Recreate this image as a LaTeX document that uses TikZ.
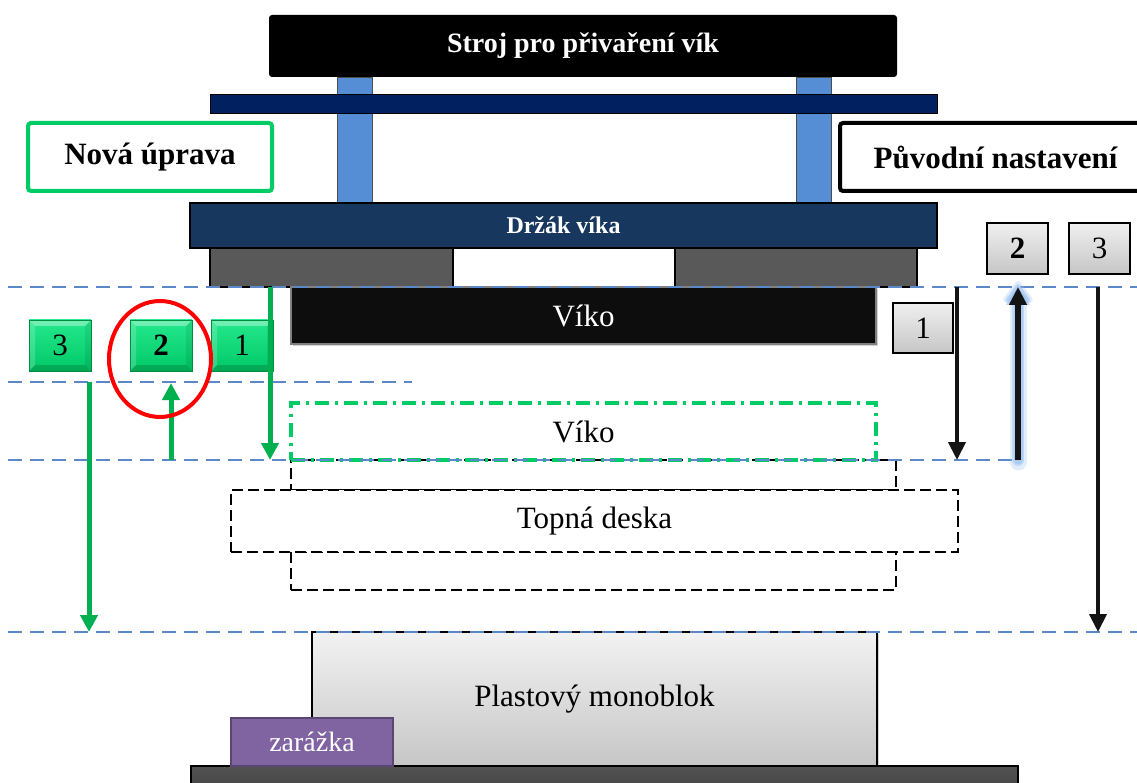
\documentclass[tikz,border=0pt]{standalone}
\usepackage{fontspec}
\setmainfont{Liberation Serif}
\usetikzlibrary{arrows.meta,fit,calc,shadows,shapes.geometric}

\definecolor{pillarblue}{HTML}{558ED5}
\definecolor{beamnavy}{HTML}{002060}
\definecolor{holdernavy}{HTML}{17375E}
\definecolor{padgray}{HTML}{595959}
\definecolor{lidblack}{HTML}{0D0D0D}
\definecolor{guideblue}{HTML}{5B88C6}
\definecolor{framegreen}{HTML}{00CC66}
\definecolor{arrowgreen}{HTML}{00B050}
\definecolor{btngreenA}{HTML}{25E98D}
\definecolor{btngreenB}{HTML}{00C866}
\definecolor{stopviolet}{HTML}{8064A2}
\definecolor{glowblue}{HTML}{9CC2F0}
\definecolor{basegray}{HTML}{404040}

\newcommand\txtL{\fontsize{31}{36}\selectfont}
\newcommand\txtM{\fontsize{28}{32}\selectfont}
\newcommand\txtS{\fontsize{24}{28}\selectfont}

\tikzset{
  area/.style={inner sep=0pt, outer sep=0pt},
  guide/.style={draw=guideblue, line width=1.6pt, dash pattern=on 14pt off 8pt},
  ghost/.style={area, draw=black, line width=1.3pt, dash pattern=on 11pt off 5pt},
  bevel/.style={path picture={
    \path (path picture bounding box.north west) coordinate (pp1)
          (path picture bounding box.south east) coordinate (pp2);
    \fill[white,opacity=.35] (pp1) -- (pp1 -| pp2) -- ++(-6pt,-6pt) -- ($(pp1)+(6pt,-6pt)$) -- cycle;
    \fill[white,opacity=.18] (pp1) -- ($(pp1)+(6pt,-6pt)$) -- ($(pp1 |- pp2)+(6pt,6pt)$) -- (pp1 |- pp2) -- cycle;
    \fill[black,opacity=.08] (pp2) -- (pp2 |- pp1) -- ++(-6pt,-6pt) -- ($(pp2)+(-6pt,6pt)$) -- cycle;
    \fill[black,opacity=.16] (pp2) -- (pp1 |- pp2) -- ++(6pt,6pt) -- ($(pp2)+(-6pt,6pt)$) -- cycle;
  }},
  btngray/.style={area, draw=black, line width=1.4pt, top color=gray!12, bottom color=gray!45, font=\txtL},
  btngreen/.style={area, draw=arrowgreen!80!black, line width=0.8pt, top color=btngreenA, bottom color=btngreenB, bevel, font=\txtL},
  greenarrow/.style={draw=arrowgreen, line width=5pt, -{Triangle[length=17pt,width=17pt]}},
  blackarrow/.style={draw=black!92, line width=4pt, -{Triangle[length=18pt,width=17pt]}},
}

\begin{document}
\begin{tikzpicture}[x=1pt, y=-1pt]
\useasboundingbox (0,0) rectangle (1137,783);

% machine frame
\node[area, fill=pillarblue, draw=black!70, line width=.8pt, fit={(337,77)(372,203)}] (pillarL) {};
\node[area, fill=pillarblue, draw=black!70, line width=.8pt, fit={(796,77)(831,203)}] (pillarR) {};
\node[area, fill=black, rounded corners=3pt, fit={(269,15)(897,77)}] (machine) {};
\node[text=white, font=\txtM\bfseries] at (machine.center) {Stroj pro přivaření vík};
\node[area, fill=beamnavy, draw=black, line width=.8pt, fit={(210,94)(937,113)}] (beam) {};
\node[area, fill=holdernavy, draw=black, line width=1.2pt, fit={(190,203)(937,248)}] (holder) {};
\node[text=white, font=\txtS\bfseries] at (holder.center) {Držák víka};
\node[area, fill=padgray, draw=black, line width=1.2pt, fit={(210,248)(453,287)}] (padL) {};
\node[area, fill=padgray, draw=black, line width=1.2pt, fit={(675,248)(917,287)}] (padR) {};

% legend boxes
\node[area, draw=framegreen, line width=4pt, rounded corners=3pt, fit={(28,123)(272,191)}] (newset) {};
\node[font=\txtL\bfseries] at (newset.center) {Nová úprava};
\node[area, draw=black, line width=4pt, rounded corners=3pt, fit={(840,123)(1160,191)}] (oldset) {};
\node[font=\txtL\bfseries] at (995.5,157) {Původní nastavení};

% lid in upper position
\node[area, fill=lidblack, draw=gray, line width=1.2pt, drop shadow={shadow xshift=2pt, shadow yshift=-2pt, opacity=.35}, fit={(291,287)(876,344)}] (lidUp) {};
\node[text=white, font=\txtL] at (lidUp.center) {Víko};

% heating plate and its travel outlines
\node[ghost, fit={(291,460)(896,490)}] (plateTop) {};
\node[ghost, fit={(291,552)(896,590)}] (plateBot) {};
\node[ghost, fill=white, fit={(231,490)(958,552)}] (plate) {};
\node[font=\txtL] at (plate.center) {Topná deska};

% lid in new lower position
\node[area, draw=framegreen, line width=3.5pt, dash pattern=on 14pt off 6pt on 3pt off 6pt, fit={(291,403)(876,460)}] (lidLow) {};
\node[font=\txtL] at (lidLow.center) {Víko};

% monoblock, base and stopper
\node[area, draw=black, line width=1.2pt, top color=gray!10, bottom color=gray!45, drop shadow={shadow xshift=2pt, shadow yshift=-2pt, opacity=.35}, fit={(312,632)(877,766)}] (mono) {};
\node[font=\txtL] at (mono.center) {Plastový monoblok};
\node[area, draw=black, line width=1.2pt, top color=basegray!90, bottom color=basegray, fit={(191,766)(1018,795)}] (base) {};
\node[area, fill=stopviolet, draw=stopviolet!70!black, line width=1.2pt, fit={(231,718)(393,766)}] (stop) {};
\node[text=white, font=\txtM] at (stop.center) {zarážka};

% reference levels
\coordinate (lvA1) at (8,287);   \coordinate (lvA2) at (1137,287);
\coordinate (lvB1) at (8,382);   \coordinate (lvB2) at (412,382);
\coordinate (lvC1) at (8,460);   \coordinate (lvC2) at (1018,460);
\coordinate (lvD1) at (8,632);   \coordinate (lvD2) at (1137,632);
\draw[guide] (lvA1) -- (lvA2);
\draw[guide] (lvB1) -- (lvB2);
\draw[guide] (lvC1) -- (lvC2);
\draw[guide] (lvD1) -- (lvD2);

% step buttons, new setting
\node[btngreen, fit={(29,320)(91,371)}] (g3) {};
\node[font=\txtL] at (g3.center) {3};
\node[btngreen, fit={(130,320)(192,371)}] (g2) {};
\node[font=\txtL\bfseries] at (g2.center) {2};
\node[btngreen, fit={(211,320)(273,371)}] (g1) {};
\node[font=\txtL] at (g1.center) {1};

% step buttons, original setting
\node[btngray, fit={(893,303)(953,353)}] (k1) {};
\node[font=\txtL] at (k1.center) {1};
\node[btngray, fit={(987,223)(1048,274)}] (k2) {};
\node[font=\txtL\bfseries] at (k2.center) {2};
\node[btngray, fit={(1069,223)(1130,274)}] (k3) {};
\node[font=\txtL] at (k3.center) {3};

% travel arrows, new setting
\coordinate (ga1s) at (270,287);  \coordinate (ga1e) at (270,460);
\coordinate (ga2s) at (171,460);  \coordinate (ga2e) at (171,383);
\coordinate (ga3s) at (89,382);   \coordinate (ga3e) at (89,632);
\draw[greenarrow] (ga1s) -- (ga1e);
\draw[greenarrow] (ga2s) -- (ga2e);
\draw[greenarrow] (ga3s) -- (ga3e);

% travel arrows, original setting (step 2 highlighted with a soft glow)
\coordinate (ka1s) at (957,287);  \coordinate (ka1e) at (957,460);
\coordinate (ka2s) at (1018,460); \coordinate (ka2e) at (1018,287);
\coordinate (ka3s) at (1098,287); \coordinate (ka3e) at (1098,632);
\draw[blackarrow] (ka1s) -- (ka1e);
\draw[glowblue, opacity=.30, line width=17pt, line cap=round, line join=round, -{Triangle[length=24pt,width=34pt,round]}] ($(ka2s)+(0,2)$) -- ($(ka2e)+(0,-6)$);
\draw[glowblue, opacity=.45, line width=12pt, line cap=round, line join=round, -{Triangle[length=21pt,width=28pt,round]}] (ka2s) -- ($(ka2e)+(0,-3)$);
\draw[glowblue, opacity=.6, line width=9pt, line cap=round, -{Triangle[length=19pt,width=23pt]}] (ka2s) -- ($(ka2e)+(0,-1)$);
\draw[blackarrow, line width=6pt] (ka2s) -- (ka2e);
\draw[blackarrow] (ka3s) -- (ka3e);

% highlight of the changed step
\node[draw=red, line width=4pt, ellipse, minimum width=102pt, minimum height=116pt, inner sep=0pt] (focus) at (160,359) {};
\end{tikzpicture}
\end{document}
